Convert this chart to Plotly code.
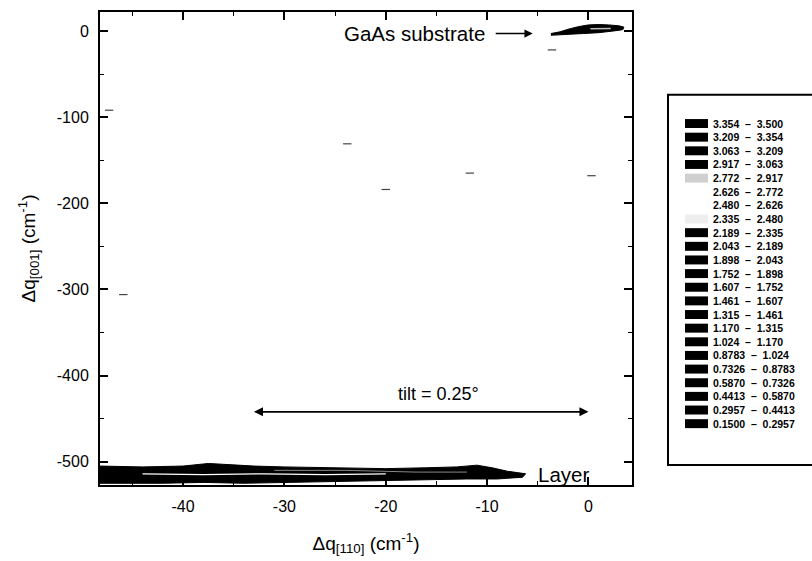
import plotly.graph_objects as go

# ---- data ----
# Layer peak outline (dq110, dq001)
layer_x = [-48.2, -44, -40, -37.5, -36, -33, -30, -25, -20, -16, -13, -11, -9.5, -8, -6.2,
           -6.5, -9, -12, -16, -20, -25, -30, -34, -38, -42, -48.2]
layer_y = [-505, -506, -505, -502, -503, -505, -506, -507, -508, -507, -506, -504, -507, -511, -514,
           -518, -520, -520, -521, -522, -523, -524, -525, -524, -525, -525]
# white streaks inside the layer contour
streak1_x = [-44, -38, -32, -26, -20]
streak1_y = [-514, -515, -514, -515, -514]
streak2_x = [-31, -24, -17, -12]
streak2_y = [-510, -510, -512, -512]
# GaAs substrate peak outline
substrate_x = [-3.7, -2.8, -2.0, -1.0, 0.0, 1.0, 2.0, 3.0, 3.5, 3.4, 2.5, 1.0, -0.5, -1.5, -2.5, -3.7]
substrate_y = [-3.0, -1.0, 2.0, 5.0, 7.0, 7.5, 7.0, 6.0, 4.5, 1.5, 0.0, -2.0, -3.0, -3.5, -4.0, -5.0]
sub_streak_x = [0.2, 1.2, 2.2]
sub_streak_y = [2.5, 3.0, 2.8]
# isolated contour specks
specks_x = [-47.3, -23.8, -20.0, -45.9, -11.7, 0.3, -3.6]
specks_y = [-92, -131, -184, -306, -165, -168, -22]

# contour level boundaries (legend)
level_labels = ["0.1500", "0.2957", "0.4413", "0.5870", "0.7326", "0.8783", "1.024", "1.170",
                "1.315", "1.461", "1.607", "1.752", "1.898", "2.043", "2.189", "2.335",
                "2.480", "2.626", "2.772", "2.917", "3.063", "3.209", "3.354", "3.500"]
# swatch colour per interval (bottom -> top)
swatch_colors = ["black"] * 15 + ["#eeeeee", "white", "white", "#cfcfcf", "black", "black", "black", "black"]

x_tickvals = [-40, -30, -20, -10, 0]
x_ticktext = ["-40", "-30", "-20", "-10", "0"]
y_tickvals = [0, -100, -200, -300, -400, -500]
y_ticktext = ["0", "-100", "-200", "-300", "-400", "-500"]

x_range = [-48.2, 4.3]
y_range = [-527, 22]

FONT = "Liberation Sans, Arial, sans-serif"

fig = go.Figure()

fig.add_trace(go.Scatter(x=layer_x, y=layer_y, fill="toself", fillcolor="black",
                         line=dict(color="black", width=1), mode="lines", hoverinfo="skip"))
fig.add_trace(go.Scatter(x=streak1_x, y=streak1_y, mode="lines",
                         line=dict(color="white", width=1.2), hoverinfo="skip"))
fig.add_trace(go.Scatter(x=streak2_x, y=streak2_y, mode="lines",
                         line=dict(color="#888888", width=1), hoverinfo="skip"))
fig.add_trace(go.Scatter(x=substrate_x, y=substrate_y, fill="toself", fillcolor="black",
                         line=dict(color="black", width=1), mode="lines", hoverinfo="skip"))
fig.add_trace(go.Scatter(x=sub_streak_x, y=sub_streak_y, mode="lines",
                         line=dict(color="#bbbbbb", width=1.5), hoverinfo="skip"))
fig.add_trace(go.Scatter(x=specks_x, y=specks_y, mode="markers",
                         marker=dict(symbol="line-ew", size=6, line=dict(color="#444444", width=1.2)),
                         hoverinfo="skip"))

# tilt arrow (double headed)
fig.add_annotation(x=-33.0, y=-442, ax=0.0, ay=-442, xref="x", yref="y", axref="x", ayref="y",
                   showarrow=True, arrowhead=2, arrowsize=1.2, arrowwidth=1.5, arrowcolor="black", text="")
fig.add_annotation(x=0.0, y=-442, ax=-33.0, ay=-442, xref="x", yref="y", axref="x", ayref="y",
                   showarrow=True, arrowhead=2, arrowsize=1.2, arrowwidth=1.5, arrowcolor="black", text="")
fig.add_annotation(x=-14.8, y=-421, xref="x", yref="y", text="tilt = 0.25°", showarrow=False,
                   font=dict(family=FONT, size=18, color="black"))
# GaAs substrate label with arrow
fig.add_annotation(x=-5.5, y=-3, ax=-9.3, ay=-3, xref="x", yref="y", axref="x", ayref="y",
                   showarrow=True, arrowhead=2, arrowsize=1.1, arrowwidth=1.5, arrowcolor="black", text="")
fig.add_annotation(x=-10.0, y=-3, xref="x", yref="y", text="GaAs substrate", showarrow=False,
                   xanchor="right", font=dict(family=FONT, size=20.5, color="black"))
fig.add_annotation(x=-5.2, y=-515, xref="x", yref="y", text="Layer", showarrow=False,
                   xanchor="left", font=dict(family=FONT, size=20.5, color="black"))

# ---- legend box drawn in paper coordinates ----
L, R, T, B = 100, 632, 10, 485   # plot area pixels
W, H = R - L, B - T
def px(x):
    return (x - L) / W
def py(y):
    return 1 - (y - T) / H

fig.add_shape(type="rect", xref="paper", yref="paper", x0=px(668), x1=px(830), y0=py(465), y1=py(93),
              line=dict(color="black", width=2), fillcolor="white", layer="below")
n = len(level_labels) - 1
for k in range(n):
    i = n - 1 - k                     # k = row from top
    yc = 122 + k * 13.7
    fig.add_shape(type="rect", xref="paper", yref="paper", x0=px(685), x1=px(708),
                  y0=py(yc + 4.5), y1=py(yc - 4.5), line=dict(width=0),
                  fillcolor=swatch_colors[i])
    fig.add_annotation(x=px(711), y=py(yc), xref="paper", yref="paper", xanchor="left",
                       yanchor="middle", showarrow=False,
                       text=f"<b>{level_labels[i]}  –  {level_labels[i + 1]}</b>",
                       font=dict(family=FONT, size=10.5, color="black"))

axis_common = dict(showline=True, linecolor="black", linewidth=2, mirror="ticks", ticks="inside",
                   ticklen=8, tickwidth=1.5, tickcolor="black", showgrid=False, zeroline=False,
                   ticklabelstandoff=6,
                   tickfont=dict(family=FONT, size=16, color="black"),
                   minor=dict(ticks="inside", ticklen=4, tickcolor="black", tickwidth=1.2))

fig.update_xaxes(range=x_range, tickvals=x_tickvals, ticktext=x_ticktext, minor_dtick=5,
                 minor_tick0=0, **axis_common,
                 title=dict(text="Δq<sub>[110]</sub> (cm<sup>-1</sup>)",
                            font=dict(family=FONT, size=19, color="black"), standoff=22))
fig.update_yaxes(range=y_range, tickvals=y_tickvals, ticktext=y_ticktext, minor_dtick=50,
                 minor_tick0=0, **axis_common,
                 title=dict(text="Δq<sub>[001]</sub> (cm<sup>-1</sup>)",
                            font=dict(family=FONT, size=19, color="black"), standoff=16))

fig.update_layout(width=812, height=561, showlegend=False,
                  margin=dict(l=L, r=812 - R, t=T, b=561 - B),
                  plot_bgcolor="white", paper_bgcolor="white")

fig.write_html("out.html")
